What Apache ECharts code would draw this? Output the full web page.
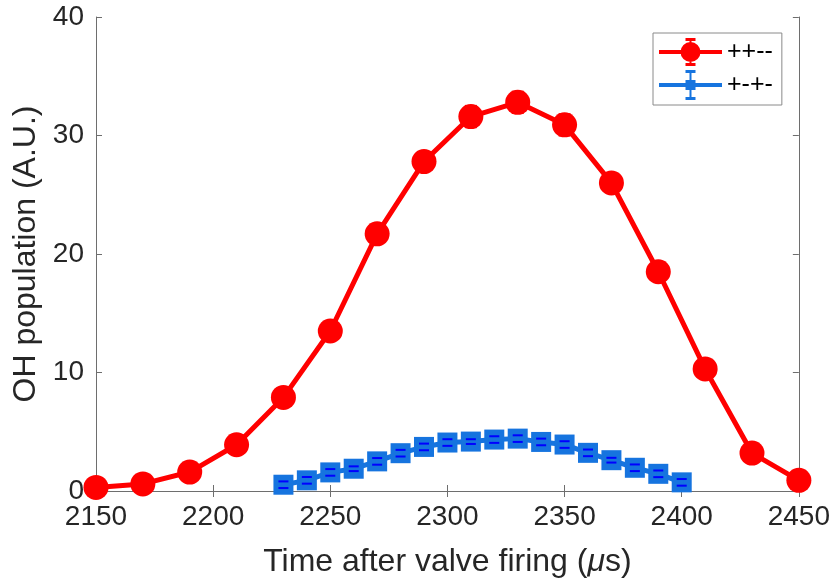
<!DOCTYPE html>
<html>
<head>
<meta charset="utf-8">
<script src="https://cdn.jsdelivr.net/npm/echarts@6/dist/echarts.min.js"></script>
<style>
  html, body { margin: 0; padding: 0; background: #fff; }
  #chart { width: 833px; height: 583px; }
</style>
</head>
<body>
<div id="chart"></div>
<script>
// Polarisation ++-- : time (µs), OH population, error
const timeA = [2150, 2170, 2190, 2210, 2230, 2250, 2270, 2290, 2310, 2330, 2350, 2370, 2390, 2410, 2430, 2450];
const popA  = [0.3, 0.6, 1.6, 3.9, 7.9, 13.5, 21.7, 27.8, 31.6, 32.8, 30.9, 26.0, 18.5, 10.3, 3.2, 0.9];
const errA  = [0.3, 0.3, 0.4, 0.5, 0.6, 0.7, 0.8, 0.8, 0.9, 0.9, 0.9, 0.8, 0.7, 0.6, 0.5, 0.3];

// Polarisation +-+- : time (µs), OH population, error
const timeB = [2230, 2240, 2250, 2260, 2270, 2280, 2290, 2300, 2310, 2320, 2330, 2340, 2350, 2360, 2370, 2380, 2390, 2400];
const popB  = [0.53, 0.9, 1.57, 1.88, 2.5, 3.19, 3.72, 4.09, 4.17, 4.34, 4.42, 4.14, 3.92, 3.22, 2.6, 1.96, 1.45, 0.73];
const errB  = [0.28, 0.28, 0.28, 0.2, 0.28, 0.28, 0.28, 0.28, 0.2, 0.28, 0.28, 0.28, 0.28, 0.28, 0.2, 0.28, 0.28, 0.28];

const seriesNames = ['++--', '+-+-'];
const xTicks = { min: 2150, max: 2450, interval: 50 };
const yTicks = { min: 0, max: 40, interval: 10 };

const RED = '#ff0000';
const LIGHT_BLUE = '#1674df';
const DARK_BLUE = '#0000ff';
const FONT = '"Liberation Sans", Arial, Helvetica, sans-serif';
const TEXT = '#262626';
const AXIS = '#6e6e6e';

// Legend glyphs: line + marker + error bar with caps (63 x 30 box)
const ICON_CIRCLE = 'path://M0 13L63 13L63 17L0 17Z' +
  'M21.5 15A10 10 0 1 1 41.5 15A10 10 0 1 1 21.5 15Z' +
  'M30.5 2.5L32.5 2.5L32.5 27.5L30.5 27.5Z' +
  'M26.5 1L36.5 1L36.5 4L26.5 4Z' +
  'M26.5 26L36.5 26L36.5 29L26.5 29Z';
const ICON_SQUARE = 'path://M0 13L63 13L63 17L0 17Z' +
  'M26.5 10L36.5 10L36.5 20L26.5 20Z' +
  'M30.5 1L32.5 1L32.5 29L30.5 29Z' +
  'M26.5 0L36.5 0L36.5 3L26.5 3Z' +
  'M26.5 27L36.5 27L36.5 30L26.5 30Z';

function zip(xs, ys) { return xs.map((x, i) => [x, ys[i]]); }
function zip3(xs, ys, es) { return xs.map((x, i) => [x, ys[i], es[i]]); }

// Vertical error bar with end caps
function errorBarRenderer(stemColor, capColor, capHalf) {
  return function (params, api) {
    const x = api.value(0), y = api.value(1), e = api.value(2);
    const hi = api.coord([x, y + e]);
    const lo = api.coord([x, y - e]);
    return {
      type: 'group',
      children: [
        { type: 'line', shape: { x1: hi[0], y1: hi[1], x2: lo[0], y2: lo[1] },
          style: { stroke: stemColor, lineWidth: 3 } },
        { type: 'line', shape: { x1: hi[0] - capHalf, y1: hi[1], x2: hi[0] + capHalf, y2: hi[1] },
          style: { stroke: capColor, lineWidth: 2 } },
        { type: 'line', shape: { x1: lo[0] - capHalf, y1: lo[1], x2: lo[0] + capHalf, y2: lo[1] },
          style: { stroke: capColor, lineWidth: 2 } }
      ]
    };
  };
}

const boxAxis = {
  axisLine: { show: true, lineStyle: { color: AXIS, width: 1 } },
  axisTick: { show: true, inside: true, length: 6, lineStyle: { color: AXIS } },
  axisLabel: { show: false },
  splitLine: { show: false }
};

const chart = echarts.init(document.getElementById('chart'), null, { renderer: 'canvas' });

chart.setOption({
  animation: false,
  backgroundColor: '#ffffff',
  grid: { left: 96, right: 34, top: 17, bottom: 90, containLabel: false },
  legend: {
    data: [
      { name: seriesNames[0], icon: ICON_CIRCLE },
      { name: seriesNames[1], icon: ICON_SQUARE }
    ],
    left: 653, top: 33,
    orient: 'vertical',
    padding: [5, 9, 5, 6],
    itemGap: 4,
    itemWidth: 63,
    itemHeight: 30,
    borderColor: '#8a8a8a',
    borderWidth: 1,
    backgroundColor: '#ffffff',
    textStyle: { fontFamily: FONT, fontSize: 25, color: '#000' }
  },
  xAxis: [
    {
      type: 'value', position: 'bottom',
      min: xTicks.min, max: xTicks.max, interval: xTicks.interval,
      name: 'Time after valve firing ({mu|\u03bc}s)',
      nameLocation: 'middle', nameGap: 55,
      nameTextStyle: {
        fontFamily: FONT, fontSize: 32, color: TEXT,
        rich: { mu: { fontFamily: FONT, fontSize: 32, color: TEXT, fontStyle: 'italic' } }
      },
      axisLine: { show: true, onZero: false, lineStyle: { color: AXIS, width: 1 } },
      axisTick: { show: true, inside: true, length: 6, lineStyle: { color: AXIS } },
      axisLabel: { fontFamily: FONT, fontSize: 28, color: TEXT, margin: 12, formatter: v => String(v) },
      splitLine: { show: false }
    },
    Object.assign({ type: 'value', position: 'top', min: xTicks.min, max: xTicks.max, interval: xTicks.interval }, boxAxis)
  ],
  yAxis: [
    {
      type: 'value', position: 'left',
      min: yTicks.min, max: yTicks.max, interval: yTicks.interval,
      name: 'OH population (A.U.)',
      nameLocation: 'middle', nameGap: 51, nameRotate: 90,
      nameTextStyle: { fontFamily: FONT, fontSize: 32, color: TEXT },
      axisLine: { show: true, lineStyle: { color: AXIS, width: 1 } },
      axisTick: { show: true, inside: true, length: 6, lineStyle: { color: AXIS } },
      axisLabel: { fontFamily: FONT, fontSize: 28, color: TEXT, margin: 12 },
      splitLine: { show: false }
    },
    Object.assign({ type: 'value', position: 'right', min: yTicks.min, max: yTicks.max, interval: yTicks.interval }, boxAxis)
  ],
  series: [
    {
      type: 'custom', name: 'errA', z: 1,
      renderItem: errorBarRenderer(RED, RED, 6),
      data: zip3(timeA, popA, errA)
    },
    {
      type: 'line', name: seriesNames[0], z: 2,
      data: zip(timeA, popA),
      symbol: 'circle', symbolSize: 25,
      itemStyle: { color: RED },
      lineStyle: { color: RED, width: 5 }
    },
    {
      type: 'line', name: seriesNames[1], z: 3,
      data: zip(timeB, popB),
      symbol: 'rect', symbolSize: 20,
      itemStyle: { color: LIGHT_BLUE },
      lineStyle: { color: LIGHT_BLUE, width: 5 }
    },
    {
      type: 'custom', name: 'errB', z: 4,
      renderItem: errorBarRenderer(LIGHT_BLUE, DARK_BLUE, 5),
      data: zip3(timeB, popB, errB)
    }
  ]
});
</script>
</body>
</html>
